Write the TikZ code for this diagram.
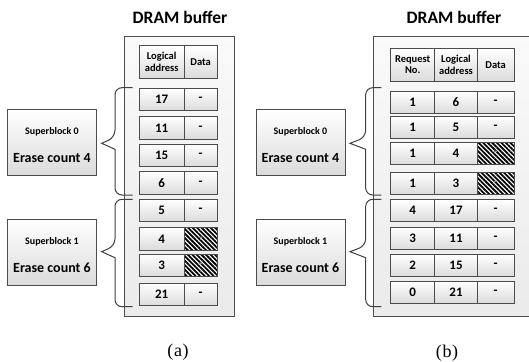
\documentclass[tikz,border=0pt]{standalone}
\usepackage{fontspec}
\setmainfont{Carlito}
\newfontfamily\capfont{Liberation Serif}
\usetikzlibrary{patterns.meta}

\tikzset{
  frameline/.style={draw=black!70, line width=0.9pt},
  cell/.style={frameline, top color=white, bottom color=black!14, inner sep=0pt,
    font=\bfseries\fontsize{13}{14}\selectfont},
  hdr/.style={cell, align=center, font=\bfseries\fontsize{10.5}{11.5}\selectfont},
  hatch/.style={frameline, inner sep=0pt, preaction={fill=white},
    pattern={Lines[angle=-45,distance=3.2pt,line width=1.8pt]}, pattern color=black,
    text=black!45, font=\bfseries\fontsize{13}{14}\selectfont},
  sbox/.style={frameline, top color=white, bottom color=black!14,
    minimum width=89pt, minimum height=66pt},
  sbname/.style={font=\bfseries\fontsize{10}{12}\selectfont},
  sbcount/.style={font=\bfseries\fontsize{14}{16}\selectfont},
  buf/.style={frameline, top color=black!2, bottom color=black!8},
  brace/.style={draw=black!75, line width=1pt},
  title/.style={font=\bfseries\fontsize{17.5}{20}\selectfont},
  caption/.style={font=\capfont\fontsize{18}{20}\selectfont},
}

\begin{document}
\begin{tikzpicture}[x=1pt,y=-1pt]
\useasboundingbox (0,0) rectangle (529,361);

% ---------------- (a) ----------------
\node[title] (ta) at (180,17) {DRAM buffer};
\path[buf] (124.3,36.7) rectangle (234.7,316);

\node[hdr, minimum width=44.7pt, minimum height=33.3pt] (ha1) at (161.7,62) {Logical\\address};
\node[hdr, minimum width=33.3pt, minimum height=33.3pt] (ha2) at (200.7,62) {Data};

\foreach \y/\la/\st/\n in {99.6/17/cell/1, 128/11/cell/2, 155.5/15/cell/3, 183/6/cell/4,
    210.3/5/cell/5, 238.9/4/hatch/6, 265.5/3/hatch/7, 294.6/21/cell/8} {
  \node[cell, minimum width=44.7pt, minimum height=22.5pt] (la\n) at (161.7,\y) {\la};
  \node[\st, minimum width=33.3pt, minimum height=22.5pt] (da\n) at (200.7,\y) {-};
}

\node[sbox] (sa0) at (52,142.2) {};
\node[sbname] at (52,131.7) {Superblock 0};
\node[sbcount] at (52,157.7) {Erase count 4};
\node[sbox] (sa1) at (52,252.4) {};
\node[sbname] at (52,241.9) {Superblock 1};
\node[sbcount] at (52,267.9) {Erase count 6};

\foreach \t/\b/\m in {87.7/195/143.3, 199.3/306.7/251.7} {
  \draw[brace] (132.7,\t) [rounded corners=7pt] -- (115,\t) -- (115,\m-6)
    [sharp corners] -- (101.7,\m) -- (115,\m+6) [rounded corners=7pt] -- (115,\b) -- (132.7,\b);
}

\node[caption] (ca) at (178,352) {(\kern0.6pt a\kern0.6pt)};

% ---------------- (b) ----------------
\node[title] (tb) at (454,17) {DRAM buffer};
\path[buf] (373.3,36.7) rectangle (540,316);

\node[hdr, minimum width=44pt, minimum height=32.7pt] (hb1) at (412.7,64.7) {Request\\No.};
\node[hdr, minimum width=42.6pt, minimum height=32.7pt] (hb2) at (456,64.7) {Logical\\address};
\node[hdr, minimum width=36.7pt, minimum height=32.7pt] (hb3) at (495.7,64.7) {Data};

\foreach \y/\rq/\la/\st/\n in {102.5/1/6/cell/1, 127.2/1/5/cell/2, 153.5/1/4/hatch/3,
    183/1/3/hatch/4, 210.5/4/17/cell/5, 238.4/3/11/cell/6, 265.5/2/15/cell/7, 292.2/0/21/cell/8} {
  \node[cell, minimum width=44pt, minimum height=22pt] (rb\n) at (412.7,\y) {\rq};
  \node[cell, minimum width=42.6pt, minimum height=22pt] (lb\n) at (456,\y) {\la};
  \node[\st, minimum width=36.7pt, minimum height=22pt] (db\n) at (495.7,\y) {-};
}

\node[sbox] (sb0) at (300.5,142.2) {};
\node[sbname] at (300.5,131.7) {Superblock 0};
\node[sbcount] at (300.5,157.7) {Erase count 4};
\node[sbox] (sb1) at (300.5,252.4) {};
\node[sbname] at (300.5,241.9) {Superblock 1};
\node[sbcount] at (300.5,267.9) {Erase count 6};

\foreach \t/\b/\m in {87.7/195/143.3, 199.3/306.7/251.7} {
  \draw[brace] (381.3,\t) [rounded corners=7pt] -- (365.7,\t) -- (365.7,\m-6)
    [sharp corners] -- (350,\m) -- (365.7,\m+6) [rounded corners=7pt] -- (365.7,\b) -- (381.3,\b);
}

\node[caption] (cb) at (447,353) {(\kern0.6pt b\kern0.6pt)};
\end{tikzpicture}
\end{document}
